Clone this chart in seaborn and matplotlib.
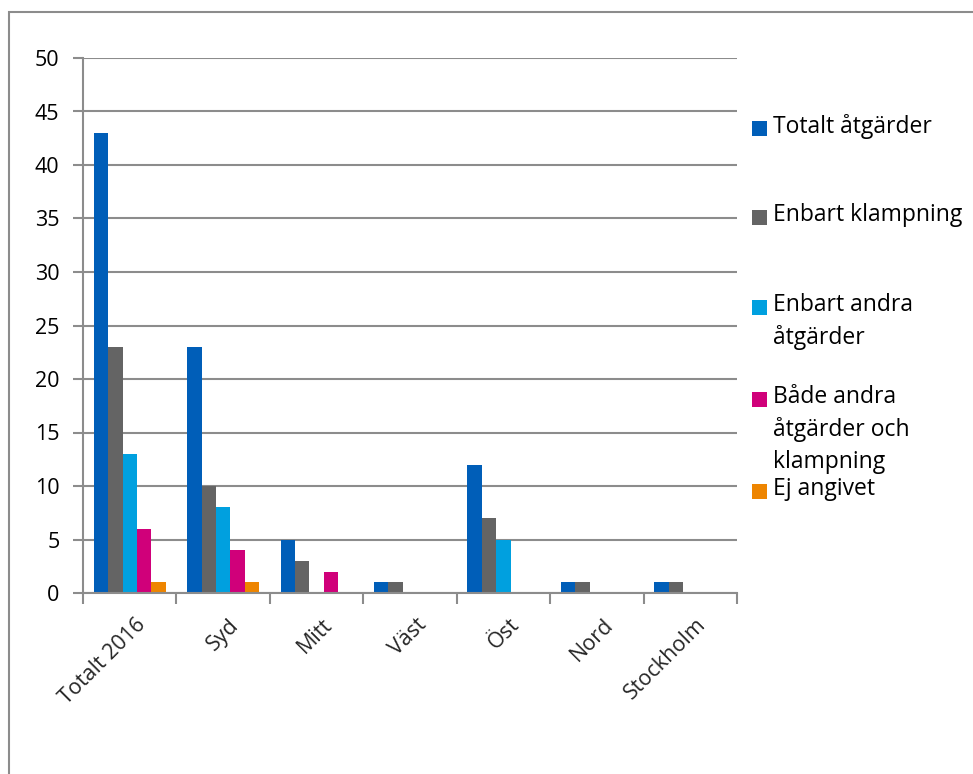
import matplotlib
matplotlib.use("Agg")
import matplotlib.pyplot as plt
import seaborn as sns
import pandas as pd
from matplotlib.patches import Rectangle

categories = ["Totalt 2016", "Syd", "Mitt", "Väst", "Öst", "Nord", "Stockholm"]
series_names = ["Totalt åtgärder", "Enbart klampning", "Enbart andra\nåtgärder",
                "Både andra\nåtgärder och\nklampning", "Ej angivet"]
totalt = [43, 23, 5, 1, 12, 1, 1]
enbart_klampning = [23, 10, 3, 1, 7, 1, 1]
enbart_andra = [13, 8, 0, 0, 5, 0, 0]
bade = [6, 4, 2, 0, 0, 0, 0]
ej_angivet = [1, 1, 0, 0, 0, 0, 0]
y_ticks = [0, 5, 10, 15, 20, 25, 30, 35, 40, 45, 50]
colors = ["#005EB8", "#646464", "#00A0DF", "#D0007A", "#EE8500"]

rows = []
for name, vals in zip(series_names, [totalt, enbart_klampning, enbart_andra, bade, ej_angivet]):
    for c, v in zip(categories, vals):
        rows.append({"cat": c, "series": name, "value": v})
df = pd.DataFrame(rows)

sns.set_theme(style="white")
plt.rcParams["font.family"] = ["Open Sans", "DejaVu Sans"]

W, H = 973, 774
fig = plt.figure(figsize=(W / 100, H / 100), dpi=100)
ax = fig.add_axes([83 / W, 1 - 593 / H, (737 - 83) / W, (593 - 58) / H])

sns.barplot(data=df, x="cat", y="value", hue="series", order=categories,
            hue_order=series_names, palette=colors, width=0.77, gap=0,
            saturation=1, linewidth=0, ax=ax, legend=False)

ax.set_xlim(-0.5, len(categories) - 0.5)
ax.set_ylim(0, 50)
ax.set_yticks(y_ticks)
ax.set_yticklabels([str(t) for t in y_ticks], fontsize=15.5, color="black")
ax.yaxis.grid(True, color="#8c8c8c", linewidth=1.5)
ax.set_axisbelow(True)
ax.set_xlabel("")
ax.set_ylabel("")

# x ticks at group boundaries
ax.set_xticks([i - 0.5 for i in range(len(categories) + 1)], minor=False)
ax.set_xticklabels([""] * (len(categories) + 1))
ax.tick_params(axis="x", which="major", length=8, width=1.5, color="#8c8c8c", bottom=True, direction="out")
ax.tick_params(axis="y", length=7, width=1.5, color="#8c8c8c", left=True, direction="out", pad=10)
for i, c in enumerate(categories):
    ax.text(i + 0.06, -2.0, c, rotation=45, ha="right", va="top", rotation_mode="anchor",
            fontsize=15.5, transform=ax.transData, clip_on=False)

for s in ["top", "right"]:
    ax.spines[s].set_visible(False)
for s in ["left", "bottom"]:
    ax.spines[s].set_color("#8c8c8c")
    ax.spines[s].set_linewidth(1.5)

# legend drawn manually
leg_y = [128, 217, 307, 399, 491]
for name, col, y in zip(series_names, colors, leg_y):
    fig.patches.append(Rectangle((752 / W, 1 - (y + 8) / H), 15 / W, 15 / H,
                                 transform=fig.transFigure, facecolor=col, edgecolor="none"))
    fig.text(773 / W, 1 - (y - 14) / H, name, ha="left", va="top", fontsize=16.5,
             linespacing=1.42, color="black")

# outer chart border
fig.patches.append(Rectangle((9 / W, -0.05), 1.2, 1 - 12 / H + 0.05, transform=fig.transFigure,
                             facecolor="none", edgecolor="#8c8c8c", linewidth=1.5))

fig.savefig("out.png", dpi=100)
